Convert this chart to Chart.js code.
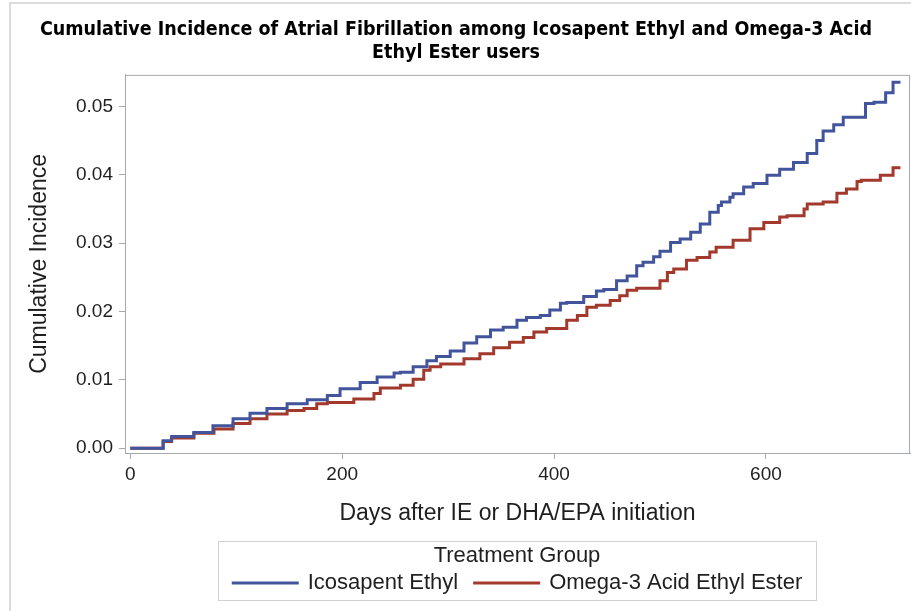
<!DOCTYPE html>
<html>
<head>
<meta charset="utf-8">
<title>Cumulative Incidence of Atrial Fibrillation</title>
<script src="https://cdn.jsdelivr.net/npm/chart.js@4.4.1/dist/chart.umd.min.js"></script>
<style>
    html, body { margin: 0; padding: 0; background: #fff; }
    #wrap { position: relative; width: 911px; height: 611px; }
</style>
</head>
<body>
<div id="wrap"><canvas id="aficChart" width="911" height="611"></canvas></div>
<script>
// Days since initiation / cumulative incidence
const ieDays = [0, 31, 39, 60, 78, 97, 113, 129, 148, 167, 186, 198, 217, 233, 249, 255, 267, 280, 289, 302,
    315, 327, 340, 352, 365, 374, 387, 396, 406, 412, 428, 431, 440, 447, 459, 469, 478, 484, 494, 500,
    510, 519, 529, 538, 547, 555, 558, 566, 569, 579, 588, 601, 613, 626, 639, 648, 654, 664, 673, 683,
    694, 702, 713, 720, 727];
const ieIncidence = [0, 0, 0.0011, 0.0017, 0.0023, 0.0033, 0.0043, 0.0051, 0.0058, 0.0065, 0.0071, 0.0077, 0.0087, 0.0096, 0.0104, 0.0110, 0.0111, 0.0119, 0.0128, 0.0134,
    0.0142, 0.0154, 0.0163, 0.0173, 0.0177, 0.0187, 0.0191, 0.0194, 0.0202, 0.0212, 0.0213, 0.0222, 0.0222, 0.0230, 0.0232, 0.0245, 0.0252, 0.0267, 0.0272, 0.0280,
    0.0288, 0.0301, 0.0306, 0.0316, 0.0328, 0.0345, 0.0355, 0.0360, 0.0367, 0.0372, 0.0382, 0.0387, 0.0399, 0.0408, 0.0418, 0.0431, 0.0450, 0.0464, 0.0473, 0.0484,
    0.0484, 0.0504, 0.0506, 0.0520, 0.0535];

const omegaDays = [0, 31, 39, 60, 79, 97, 113, 129, 148, 164, 176, 186, 211, 230, 236, 255, 267, 277, 283, 293,
    315, 330, 343, 358, 371, 381, 393, 412, 422, 431, 440, 453, 462, 469, 478, 500, 507, 513, 525, 535,
    547, 553, 569, 585, 598, 613, 620, 636, 639, 654, 667, 676, 686, 690, 708, 720, 727];
const omegaIncidence = [0, 0, 0.0010, 0.0015, 0.0022, 0.0028, 0.0036, 0.0043, 0.0050, 0.0055, 0.0058, 0.0065, 0.0067, 0.0072, 0.0080, 0.0088, 0.0092, 0.0101, 0.0114, 0.0119,
    0.0123, 0.0131, 0.0138, 0.0147, 0.0155, 0.0162, 0.0170, 0.0175, 0.0187, 0.0194, 0.0206, 0.0209, 0.0216, 0.0223, 0.0231, 0.0234, 0.0245, 0.0257, 0.0262, 0.0275,
    0.0279, 0.0287, 0.0294, 0.0304, 0.0321, 0.0330, 0.0338, 0.0340, 0.0350, 0.0357, 0.0360, 0.0373, 0.0379, 0.0390, 0.0392, 0.0399, 0.0410];

const groupLabels = ['Icosapent Ethyl', 'Omega-3 Acid Ethyl Ester'];
const xTickValues = [0, 200, 400, 600];
const yTickValues = [0, 0.01, 0.02, 0.03, 0.04, 0.05];

const TEXT = '#1f1f1f';
const FRAME = '#a6a9ad';
const SANS = "'Liberation Sans', Arial, sans-serif";

function toPoints(xs, ys) {
    return xs.map((x, i) => ({ x: x, y: ys[i] }));
}

// gray box around the plot area (SAS style frame) plus the outer page border
const framePlugin = {
    id: 'frame',
    beforeDraw(chart) {
        const c = chart.ctx;
        c.save();
        c.strokeStyle = '#dcdcdc';
        c.lineWidth = 2;
        c.beginPath();
        c.moveTo(10, 611);
        c.lineTo(10, 3);
        c.lineTo(911, 3);
        c.stroke();
        c.restore();
    },
    afterDatasetsDraw(chart) {
        const a = chart.chartArea;
        const c = chart.ctx;
        c.save();
        c.strokeStyle = FRAME;
        c.lineWidth = 1;
        c.strokeRect(a.left + 0.5, a.top + 0.5, a.right - a.left - 1, a.bottom - a.top);
        c.restore();
    }
};

// boxed legend under the x axis title
const boxLegend = {
    id: 'boxLegend',
    afterDraw(chart) {
        const c = chart.ctx;
        const box = { left: 218, top: 541, right: 816, bottom: 600 };
        const cx = (box.left + box.right) / 2;
        c.save();
        c.strokeStyle = '#cfd1d4';
        c.lineWidth = 1;
        c.strokeRect(box.left + 0.5, box.top + 0.5, box.right - box.left, box.bottom - box.top);

        c.font = '22px ' + SANS;
        c.fillStyle = TEXT;
        c.textBaseline = 'middle';
        c.textAlign = 'center';
        c.fillText('Treatment Group', cx, 556);

        const sample = 67, gapIn = 9, gapOut = 15;
        const items = chart.data.datasets.map(ds => ({ label: ds.label, color: ds.borderColor, w: c.measureText(ds.label).width }));
        const total = items.reduce((s, it) => s + sample + gapIn + it.w, 0) + gapOut * (items.length - 1);
        let x = cx - total / 2;
        const y = 583;
        c.textAlign = 'left';
        items.forEach(it => {
            c.strokeStyle = it.color;
            c.lineWidth = 3;
            c.beginPath();
            c.moveTo(x, y);
            c.lineTo(x + sample, y);
            c.stroke();
            x += sample + gapIn;
            c.fillStyle = TEXT;
            c.fillText(it.label, x, y);
            x += it.w + gapOut;
        });
        c.restore();
    }
};

new Chart(document.getElementById('aficChart'), {
    type: 'line',
    data: {
        datasets: [
            {
                label: groupLabels[0],
                data: toPoints(ieDays, ieIncidence),
                borderColor: '#42549c',
                borderWidth: 3,
                stepped: 'after',
                pointRadius: 0,
                fill: false
            },
            {
                label: groupLabels[1],
                data: toPoints(omegaDays, omegaIncidence),
                borderColor: '#a3392d',
                borderWidth: 3,
                stepped: 'after',
                pointRadius: 0,
                fill: false
            }
        ]
    },
    options: {
        responsive: false,
        animation: false,
        layout: { padding: { left: 2, right: 1, top: 0, bottom: 78 } },
        plugins: {
            legend: { display: false },
            tooltip: { enabled: false },
            title: {
                display: true,
                text: ['Cumulative Incidence of Atrial Fibrillation among Icosapent Ethyl and Omega-3 Acid', 'Ethyl Ester users'],
                color: '#000',
                font: { family: "'Liberation Sans Narrow', 'DejaVu Sans Condensed', sans-serif", size: 19.5, weight: 'bold', lineHeight: 1.15 },
                padding: { top: 19, bottom: 11 }
            }
        },
        scales: {
            x: {
                type: 'linear',
                min: -5,
                max: 736,
                afterBuildTicks: s => { s.ticks = xTickValues.map(v => ({ value: v })); },
                afterFit: s => { s.height = 80; },
                grid: { display: true, drawOnChartArea: false, drawTicks: true, tickLength: 6, color: FRAME },
                border: { display: true, color: FRAME },
                ticks: { color: TEXT, padding: 4, font: { family: SANS, size: 19 } },
                title: {
                    display: true,
                    text: 'Days after IE or DHA/EPA initiation',
                    color: TEXT,
                    font: { family: SANS, size: 23 },
                    padding: { top: 0, bottom: 6 }
                }
            },
            y: {
                type: 'linear',
                min: -0.0007,
                max: 0.0546,
                afterBuildTicks: s => { s.ticks = yTickValues.map(v => ({ value: v })); },
                afterFit: s => { s.width = 123; },
                grid: { display: true, drawOnChartArea: false, drawTicks: true, tickLength: 6, color: FRAME },
                border: { display: true, color: FRAME },
                ticks: {
                    color: TEXT,
                    padding: 6,
                    font: { family: SANS, size: 19 },
                    callback: v => v.toFixed(2)
                },
                title: {
                    display: true,
                    text: 'Cumulative Incidence',
                    color: TEXT,
                    font: { family: SANS, size: 23 },
                    padding: { top: 24, bottom: 0 }
                }
            }
        }
    },
    plugins: [framePlugin, boxLegend]
});
</script>
</body>
</html>
